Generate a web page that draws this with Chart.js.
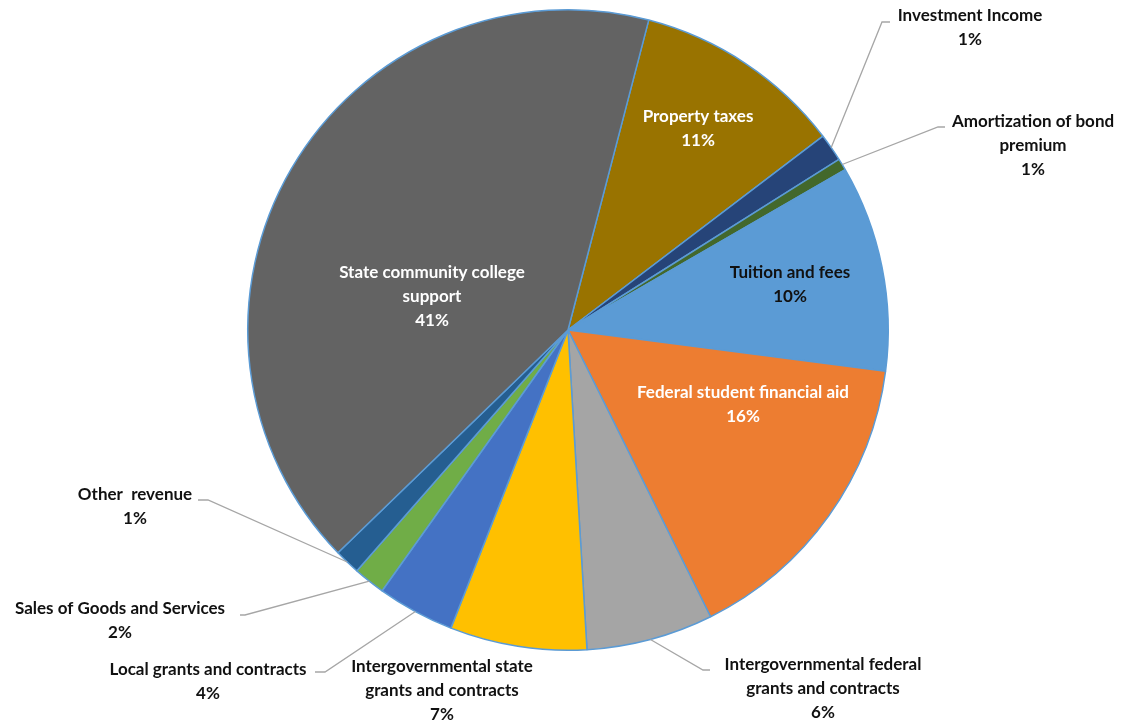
<!DOCTYPE html>
<html>
<head>
<meta charset="utf-8">
<script src="https://cdn.jsdelivr.net/npm/chart.js@4.4.1/dist/chart.umd.min.js"></script>
<style>
  body { margin: 0; background: #fff; }
  #wrap { width: 1124px; height: 723px; }
</style>
</head>
<body>
<div id="wrap"><canvas id="revenueChart" width="1124" height="723"></canvas></div>
<script>
// Categorias, en el orden del gráfico (sentido horario)
const categories = [
    ['Property taxes'],
    ['Investment Income'],
    ['Amortization of bond', 'premium'],
    ['Tuition and fees'],
    ['Federal student financial aid'],
    ['Intergovernmental federal', 'grants and contracts'],
    ['Intergovernmental state', 'grants and contracts'],
    ['Local grants and contracts'],
    ['Sales of Goods and Services'],
    ['Other  revenue'],
    ['State community college', 'support']
];
// Participación estimada (%)
const shares = [10.6, 1.4, 0.6, 10.4, 15.6, 6.4, 6.9, 3.9, 1.6, 1.3, 41.3];

const colors = ['#997300', '#264478', '#43682B', '#5B9BD5', '#ED7D31', '#A5A5A5',
                '#FFC000', '#4472C4', '#70AD47', '#255E91', '#636363'];
const textColors = ['#fff', '#111', '#111', '#111', '#fff', '#111', '#111', '#111', '#111', '#111', '#fff'];

// Posición de las etiquetas (centro de la primera línea) y guías
const labelPos = [
    [698, 117], [970, 16], [1033, 122], [790, 273], [743, 393], [823, 665],
    [442, 667], [208, 670], [120, 609], [135, 495], [432, 273]
];
// leader: [codoX, codoY, finX]
const leaders = [
    null, [882, 22, 890], [938, 127, 945], null, null, [703, 670, 710],
    null, [325, 672, 315], [245, 615, 240], [208, 500, 198], null
];

const labelPlugin = {
    id: 'pieLabels',
    afterDatasetsDraw(chart) {
        const ctx = chart.ctx;
        const meta = chart.getDatasetMeta(0);
        const data = chart.data.datasets[0].data;
        const total = data.reduce((a, b) => a + b, 0);
        ctx.save();
        // Líneas guía
        ctx.strokeStyle = '#A6A6A6';
        ctx.lineWidth = 1.3;
        meta.data.forEach((arc, i) => {
            const l = leaders[i];
            if (!l) return;
            const p = arc.getProps(['x', 'y', 'startAngle', 'endAngle', 'outerRadius'], true);
            const mid = (p.startAngle + p.endAngle) / 2;
            const sx = p.x + Math.cos(mid) * p.outerRadius;
            const sy = p.y + Math.sin(mid) * p.outerRadius;
            ctx.beginPath();
            ctx.moveTo(sx, sy);
            ctx.lineTo(l[0], l[1]);
            ctx.lineTo(l[2], l[1]);
            ctx.stroke();
        });
        // Textos
        ctx.font = 'bold 17px Lato';
        ctx.textAlign = 'center';
        ctx.textBaseline = 'middle';
        meta.data.forEach((arc, i) => {
            const lines = categories[i].concat([Math.round(data[i] / total * 100) + '%']);
            ctx.fillStyle = textColors[i];
            lines.forEach((t, k) => {
                ctx.fillText(t, labelPos[i][0], labelPos[i][1] + k * 24);
            });
        });
        ctx.restore();
    }
};

const ctx = document.getElementById('revenueChart').getContext('2d');
const revenueChart = new Chart(ctx, {
    type: 'pie',
    data: {
        labels: categories.map(c => c.join(' ')),
        datasets: [{
            data: shares,
            backgroundColor: colors,
            borderColor: '#5B9BD5',
            borderWidth: 1.5
        }]
    },
    options: {
        responsive: false,
        animation: false,
        rotation: 14.6,
        layout: { padding: { left: 12, right: 0, top: 9, bottom: 72 } },
        plugins: {
            legend: { display: false },
            tooltip: { enabled: false }
        }
    },
    plugins: [labelPlugin]
});
</script>
</body>
</html>
